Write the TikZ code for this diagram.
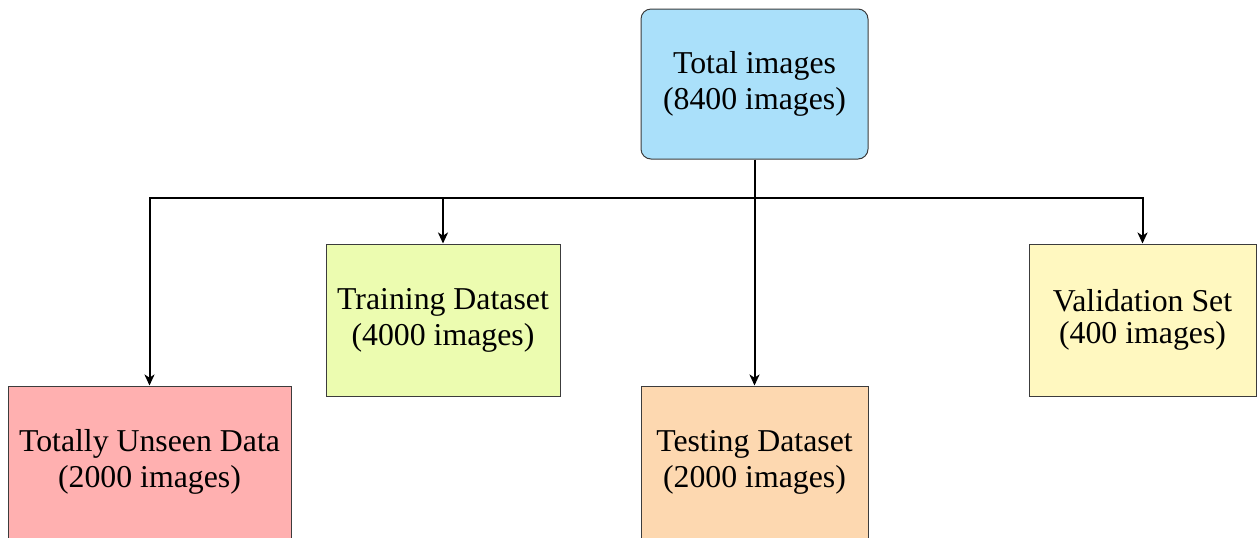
\documentclass[tikz,border=0pt]{standalone}
\usepackage{fontspec}
\setmainfont{Liberation Serif}
\usetikzlibrary{arrows.meta}

\definecolor{totalblue}{RGB}{170,224,250}
\definecolor{unseenred}{RGB}{255,176,176}
\definecolor{trainlime}{RGB}{236,252,176}
\definecolor{testorange}{RGB}{253,216,176}
\definecolor{validyellow}{RGB}{255,248,192}
\definecolor{edgegray}{RGB}{60,60,60}

\tikzset{
  databox/.style={draw=edgegray, line width=0.5pt, align=center,
    inner sep=0pt, font=\fontsize{15.9pt}{18pt}\selectfont},
  conn/.style={draw=black, line width=1pt,
    -{Stealth[length=5.5pt,width=5pt,inset=1.6pt]}},
}

\begin{document}
\begin{tikzpicture}[x=0.5pt,y=-0.5pt]
  \useasboundingbox (0,0) rectangle (1258,537);

  % source node
  \node[databox, fill=totalblue, rounded corners=5pt,
        minimum width=113.5pt, minimum height=75pt] (total) at (754.5,84)
        {Total images\\(8400 images)};

  % split targets
  \node[databox, fill=unseenred, minimum width=141.5pt, minimum height=76pt]
        (unseen) at (149.5,462) {Totally Unseen Data\\(2000 images)};
  \node[databox, fill=trainlime, minimum width=117pt, minimum height=76pt]
        (train) at (443,320) {Training Dataset\\(4000 images)};
  \node[databox, fill=testorange, minimum width=113.5pt, minimum height=76pt]
        (test) at (754.5,462) {Testing Dataset\\(2000 images)};
  \node[databox, fill=validyellow, minimum width=113.5pt, minimum height=76pt,
        font=\fontsize{15.9pt}{16pt}\selectfont]
        (valid) at (1142.5,320) {Validation Set\\(400 images)};

  % branching connectors
  \coordinate (split) at (754.5,198);
  \draw[conn] (total.south) -- (test.north);
  \draw[conn] (split) -| (unseen.north);
  \draw[conn] (split) -| (train.north);
  \draw[conn] (split) -| (valid.north);
\end{tikzpicture}
\end{document}
